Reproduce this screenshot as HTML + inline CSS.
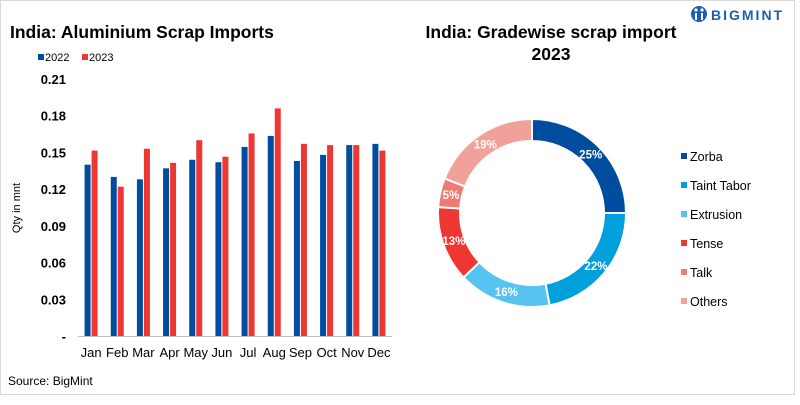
<!DOCTYPE html>
<html><head><meta charset="utf-8"><style>
body{margin:0;background:#fff;font-family:"Liberation Sans",Arial,sans-serif}
svg text{font-family:"Liberation Sans",Arial,sans-serif}
</style></head><body>
<svg id="c" width="800" height="400" xmlns="http://www.w3.org/2000/svg">
<rect x="0.5" y="0.5" width="794" height="394" fill="#fff" stroke="#d9d9d9"/>
<text x="10" y="38" font-size="17.5" font-weight="bold" fill="#000">India: Aluminium Scrap Imports</text>
<g>
<rect x="38" y="54" width="6" height="6" fill="#004c9e"/>
<text x="45" y="61" font-size="11">2022</text>
<rect x="82" y="54" width="6" height="6" fill="#ee3733"/>
<text x="89" y="61" font-size="11">2023</text>
</g>
<text transform="translate(20,208) rotate(-90)" font-size="11" text-anchor="middle">Qty in mnt</text>
<g id="bars"></g>
<text x="8" y="385" font-size="12">Source:  BigMint</text>
<text x="551" y="38" font-size="17.5" font-weight="bold" text-anchor="middle">India: Gradewise scrap import</text>
<text x="551" y="60" font-size="17.5" font-weight="bold" text-anchor="middle">2023</text>
<g>
<circle cx="699" cy="14" r="8" fill="#1a5fb4"/>
<circle cx="696" cy="10" r="1.6" fill="#fff"/><circle cx="702" cy="10" r="1.6" fill="#fff"/>
<rect x="695" y="13" width="2" height="7" fill="#fff"/><rect x="701" y="13" width="2" height="7" fill="#fff"/>
<text x="711" y="20" font-size="14" font-weight="bold" fill="#1a5fb4" letter-spacing="2">BIGMINT</text>
</g>
<g id="donut"></g>
<g id="dleg"></g>
</svg>
<script>
const months=["Jan","Feb","Mar","Apr","May","Jun","Jul","Aug","Sep","Oct","Nov","Dec"];
const v2022=[0.140,0.130,0.128,0.137,0.144,0.142,0.1545,0.1635,0.143,0.148,0.156,0.157];
const v2023=[0.1515,0.122,0.153,0.1415,0.160,0.1465,0.1655,0.186,0.157,0.156,0.156,0.1515];
const yTicks=[0,0.03,0.06,0.09,0.12,0.15,0.18,0.21];
const yTickLabels=["-","0.03","0.06","0.09","0.12","0.15","0.18","0.21"];
const grades=["Zorba","Taint Tabor","Extrusion","Tense","Talk","Others"];
const shares=[25,22,16,13,5,19];
const gradeColors=["#004c9e","#00a0dc","#56c3f0","#ee3733","#f07a75","#f0a29a"];
const NS="http://www.w3.org/2000/svg";
function mk(t,a,p){const e=document.createElementNS(NS,t);for(const k in a)e.setAttribute(k,a[k]);p.appendChild(e);return e;}
const x0=78,x1=392,y0=336,yMax=0.21,yTop=79;
const band=(x1-x0)/months.length;
const y=v=>y0-(v/yMax)*(y0-yTop);
const g=document.getElementById('bars');
yTicks.forEach((t,i)=>{const tx=mk('text',{x:66,y:y(t)+5,'font-size':13,'font-weight':'bold','text-anchor':'end'},g);tx.textContent=yTickLabels[i];

});
months.forEach((m,i)=>{const c=x0+band*(i+0.5);
const b1=mk('rect',{x:c-6.5,y:y(v2022[i]),width:6,height:y0-y(v2022[i]),fill:'#004c9e'},g);


const b2=mk('rect',{x:c+0.5,y:y(v2023[i]),width:6,height:y0-y(v2023[i]),fill:'#ee3733'},g);


const tx=mk('text',{x:c,y:357,'font-size':13,'text-anchor':'middle'},g);tx.textContent=m;

});
const ax=mk('line',{x1:x0,y1:y0+0.5,x2:x1,y2:y0+0.5,stroke:'#bfbfbf'},g);


const d=document.getElementById('donut');const cx=532,cy=213,R=94,r=72;
const total=shares.reduce((a,b)=>a+b,0);let a0=-Math.PI/2;
const pt=(rad,a)=>[cx+rad*Math.cos(a),cy+rad*Math.sin(a)];
shares.forEach((s,i)=>{const a1=a0+s/total*2*Math.PI;const lg=(a1-a0)>Math.PI?1:0;
const [p1x,p1y]=pt(R,a0),[p2x,p2y]=pt(R,a1),[p3x,p3y]=pt(r,a1),[p4x,p4y]=pt(r,a0);
const p=mk('path',{d:`M${p1x},${p1y}A${R},${R} 0 ${lg} 1 ${p2x},${p2y}L${p3x},${p3y}A${r},${r} 0 ${lg} 0 ${p4x},${p4y}Z`,fill:gradeColors[i],stroke:'#fff','stroke-width':2},d);


const am=(a0+a1)/2;const [lx,ly]=pt((R+r)/2,am);
const t=mk('text',{x:lx,y:ly+4,'font-size':11.5,'font-weight':'bold',fill:'#fff','text-anchor':'middle'},d);t.textContent=s+'%';


a0=a1;});
const l=document.getElementById('dleg');
grades.forEach((n,i)=>{const yy=158+i*29;
const s=mk('rect',{x:681,y:yy-5,width:6,height:6,fill:gradeColors[i]},l);


const t=mk('text',{x:690,y:yy+3,'font-size':12.5},l);t.textContent=n;

});
</script>
</body></html>
